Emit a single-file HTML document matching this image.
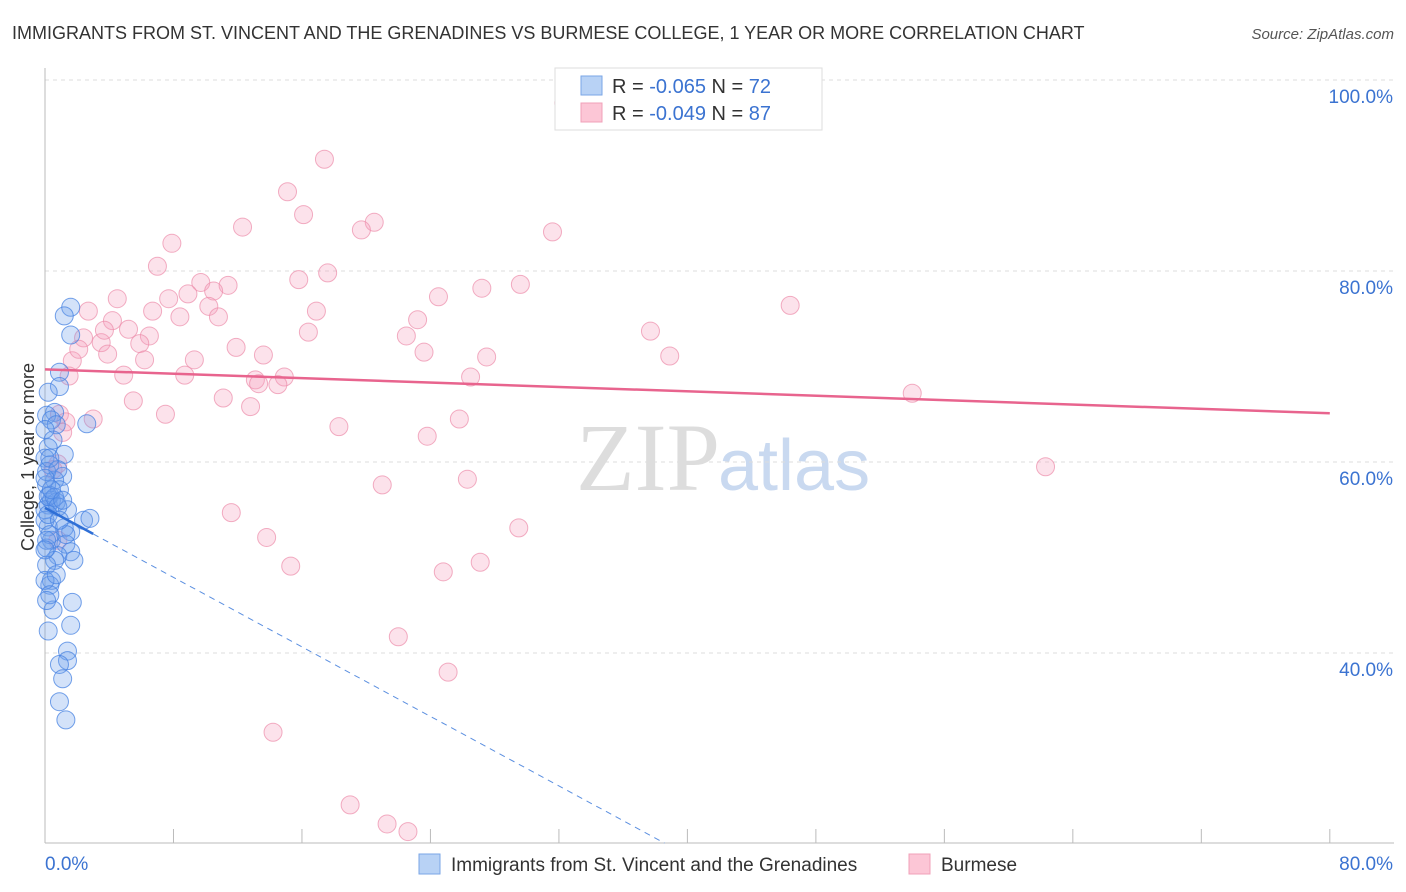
<!DOCTYPE html>
<html><head><meta charset="utf-8"><style>
body{margin:0;background:#fff;font-family:"Liberation Sans",sans-serif}
svg{display:block}
</style></head><body>
<svg width="1406" height="892" id="chart">
<text x="12" y="39" font-size="18" fill="#333">IMMIGRANTS FROM ST. VINCENT AND THE GRENADINES VS BURMESE COLLEGE, 1 YEAR OR MORE CORRELATION CHART</text>
<text x="1394" y="39" font-size="15" fill="#555" font-style="italic" text-anchor="end">Source: ZipAtlas.com</text>
<text x="720" y="490" font-size="96" fill="#ddd" text-anchor="end" font-family="Liberation Serif,serif">ZIP</text>
<text x="718" y="490" font-size="72" fill="#c9d9f0">atlas</text>
<g id="grid"></g>
<g id="axes"></g>
<g id="pts"></g>
<g id="trend"></g>
<text transform="translate(34,457) rotate(-90)" font-size="18" fill="#333" text-anchor="middle">College, 1 year or more</text>
<g>
<rect x="555" y="68" width="267" height="62" fill="#fff" stroke="#ddd"/>
<rect x="581" y="76" width="21" height="19" fill="#b8d2f5" stroke="#7aa6e6"/>
<rect x="581" y="103" width="21" height="19" fill="#fcc6d6" stroke="#f0a0b8"/>
<text x="612" y="93" font-size="20" fill="#333">R = <tspan fill="#3b73d1">-0.065</tspan>   N = <tspan fill="#3b73d1">72</tspan></text>
<text x="612" y="120" font-size="20" fill="#333">R = <tspan fill="#3b73d1">-0.049</tspan>   N = <tspan fill="#3b73d1">87</tspan></text>
</g>
<g>
<rect x="419" y="854" width="21" height="20" fill="#b8d2f5" stroke="#7aa6e6"/>
<text x="451" y="871" font-size="19" fill="#333">Immigrants from St. Vincent and the Grenadines</text>
<rect x="909" y="854" width="21" height="20" fill="#fcc6d6" stroke="#f0a0b8"/>
<text x="941" y="871" font-size="19" fill="#333">Burmese</text>
</g>
</svg>
<script>
const blueX=[1.6,1.2,1.6,0.9,0.9,0.2,0.6,0.1,0.4,2.6,0.7,0,0.5,0.2,1.2,0,0.3,1.1,0.6,0.1,0.9,0.3,0.4,0.2,0.7,0,1.4,2.4,2.8,1.2,0.2,1.6,0.4,1.3,0.1,1.6,0.8,1.8,0.6,0.1,0.4,0.3,1.7,0.5,1.6,0.2,1.4,1.4,0.9,1.1,0.9,1.3,0.1,0.2,0.6,0,0.3,0.8,0.1,0,0.8,0.3,0,0.4,1.1,0.2,1.3,0,0.7,0.3,0.1,0.9];
const blueY=[76.2,75.3,73.3,69.4,67.9,67.3,65.2,64.9,64.4,64.0,63.9,63.4,62.3,61.5,60.8,60.4,59.7,58.5,58.1,57.6,57.1,56.5,56.0,55.5,55.8,55.0,55.0,53.9,54.1,53.1,53.2,52.7,51.8,51.4,51.0,50.6,50.2,49.7,49.7,49.2,47.6,47.1,45.3,44.5,42.9,42.3,40.2,39.2,38.8,37.3,34.9,33.0,59.0,56.4,56.3,53.9,52.4,59.2,51.8,47.6,55.3,60.4,58.3,57.1,56.0,54.5,52.4,50.8,48.2,46.1,45.5,53.9];
const pinkX=[32.3,17.4,15.1,16.1,20.5,12.3,19.7,31.6,7.9,7.0,17.6,15.8,9.7,11.4,29.6,27.2,10.5,4.5,24.5,8.9,7.7,2.7,10.2,6.7,16.9,46.4,8.4,10.8,4.2,23.2,5.2,6.5,16.4,22.5,37.7,2.4,3.5,5.9,11.9,3.9,13.6,23.6,1.7,6.2,27.5,38.9,9.3,4.9,1.5,8.7,13.1,14.9,13.3,14.5,26.5,54.0,5.5,11.1,12.8,7.5,0.9,3.0,1.3,25.8,18.3,23.8,0.8,62.3,21.0,26.3,11.6,29.5,13.8,15.3,24.8,27.1,22.0,25.1,14.2,19.0,21.3,22.6,3.7,2.1,1.1,0.8,0.5];
const pinkY=[97.6,91.7,88.3,85.9,85.1,84.6,84.3,84.1,82.9,80.5,79.8,79.1,78.8,78.5,78.6,78.2,77.9,77.1,77.3,77.6,77.1,75.8,76.3,75.8,75.8,76.4,75.2,75.2,74.8,74.9,73.9,73.2,73.6,73.2,73.7,73.0,72.5,72.4,72.0,71.3,71.2,71.5,70.6,70.7,71.0,71.1,70.7,69.1,69.0,69.1,68.6,68.9,68.2,68.1,68.9,67.2,66.4,66.7,65.8,65.0,65.0,64.5,64.2,64.5,63.7,62.7,59.8,59.5,57.6,58.2,54.7,53.1,52.1,49.1,48.5,49.5,41.7,38.0,31.7,24.1,22.1,21.3,73.8,71.8,63.1,51.8,59.2];
const yTicks=[40,60,80,100];
const xTickLabels=["0.0%","80.0%"];
const pinkTrend=[69.7,65.1];
const blueTrend=[55.2,-0.91];
const NS="http://www.w3.org/2000/svg";
const X=v=>45+v*16.06, Y=v=>80+(100-v)*9.55;
function mk(p,t,a){const e=document.createElementNS(NS,t);for(const k in a)e.setAttribute(k,a[k]);document.getElementById(p).appendChild(e);return e;}
yTicks.forEach(t=>{
 const l=mk('grid','line',{x1:45,x2:1394,y1:Y(t),y2:Y(t),stroke:'#ddd','stroke-dasharray':'4,4'});
 
 
 const tx=mk('grid','text',{x:1393,y:Y(t)+23,'font-size':19,fill:'#3b73d1','text-anchor':'end'});
 tx.textContent=t.toFixed(1)+'%';
 
 
});
const ax=mk('axes','line',{x1:45,x2:45,y1:68,y2:843,stroke:'#bbb'});


const bx=mk('axes','line',{x1:45,x2:1394,y1:843,y2:843,stroke:'#bbb'});


for(let i=0;i<=10;i++){
 const t=mk('axes','line',{x1:X(i*8),x2:X(i*8),y1:829,y2:843,stroke:'#bbb'});
 
 
}
[[0,'start',45],[80,'end',1393]].forEach((d,i)=>{
 const t=mk('axes','text',{x:d[2],y:870,'font-size':19,fill:'#3b73d1','text-anchor':d[1]});
 t.textContent=xTickLabels[i];
 
 
});
pinkX.forEach((v,i)=>{
 const c=mk('pts','circle',{cx:X(v),cy:Y(pinkY[i]),r:9,fill:'rgba(244,160,188,0.3)',stroke:'rgba(236,140,170,0.7)'});
 
 
});
blueX.forEach((v,i)=>{
 const c=mk('pts','circle',{cx:X(v),cy:Y(blueY[i]),r:9,fill:'rgba(110,160,235,0.3)',stroke:'rgba(70,130,225,0.75)'});
 
 
});
const pt=mk('trend','line',{x1:X(0),y1:Y(pinkTrend[0]),x2:X(80),y2:Y(pinkTrend[1]),stroke:'#e8648e','stroke-width':2.5});


const bs=mk('trend','line',{x1:X(0),y1:Y(blueTrend[0]),x2:X(3),y2:Y(blueTrend[0]+3*blueTrend[1]),stroke:'#2f6fd6','stroke-width':2.5});


const xe=(20.1-blueTrend[0])/blueTrend[1];
const bd=mk('trend','line',{x1:X(3),y1:Y(blueTrend[0]+3*blueTrend[1]),x2:X(xe),y2:Y(20.1),stroke:'#5b8fe0','stroke-width':1,'stroke-dasharray':'6,5'});


</script>
</body></html>
